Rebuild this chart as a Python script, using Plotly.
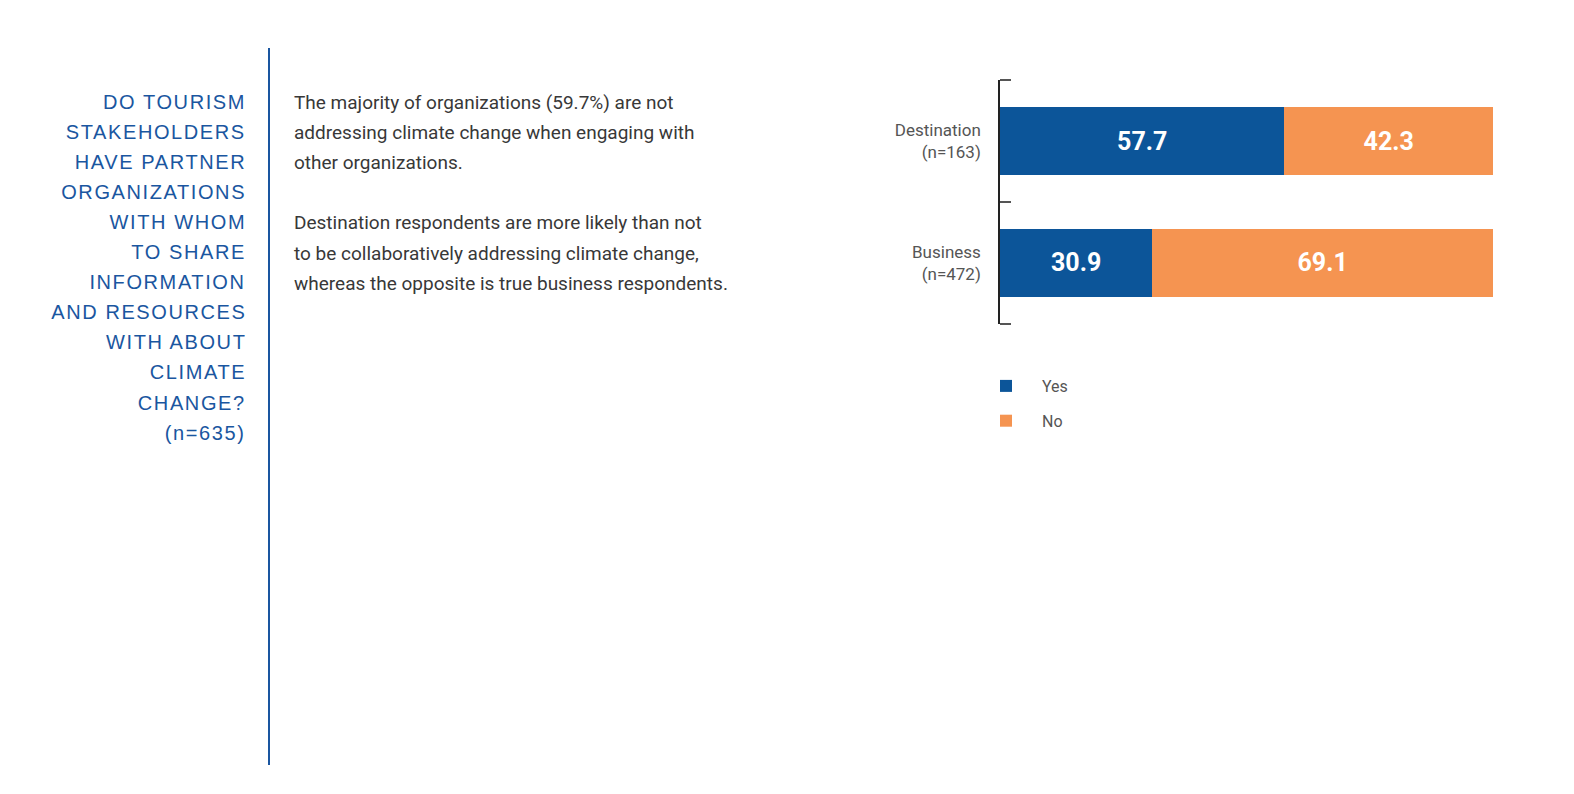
import plotly.graph_objects as go

categories = ["Destination<br>(n=163)", "Business<br>(n=472)"]
yes_values = [57.7, 30.9]
no_values = [42.3, 69.1]
series_names = ["Yes", "No"]

title_lines = ["DO TOURISM", "STAKEHOLDERS", "HAVE PARTNER", "ORGANIZATIONS",
               "WITH WHOM", "TO SHARE", "INFORMATION", "AND RESOURCES",
               "WITH ABOUT", "CLIMATE", "CHANGE?", "(n=635)"]
body_lines = ["The majority of organizations (59.7%) are not",
              "addressing climate change when engaging with",
              "other organizations.",
              "",
              "Destination respondents are more likely than not",
              "to be collaboratively addressing climate change,",
              "whereas the opposite is true business respondents."]

W, H = 1574, 794
OFF = 8  # page body margin
# plot area in reference (page) pixels
L, R, T, B = 1000, 1493, 80, 324
BLUE = "#0c5599"
ORANGE = "#f59451"
TITLE_BLUE = "#1a56a0"

ypos = list(range(len(categories)))
boundaries = [p - 0.5 for p in ypos] + [ypos[-1] + 0.5]


def px_x(x):
    return (x - L) / (R - L)


def px_y(y):
    return (B - y) / (B - T)


fig = go.Figure()
for name, vals, col, grp in [(series_names[0], yes_values, BLUE, "a"),
                             (series_names[1], no_values, ORANGE, "b")]:
    fig.add_trace(go.Bar(
        y=ypos, x=vals, name=name, orientation="h",
        marker=dict(color=col, line=dict(width=0)), width=0.557,
        text=[f"{v:.1f}" for v in vals], textposition="inside",
        insidetextanchor="middle",
        textfont=dict(family="Roboto", size=25, color="white", weight="bold"),
        legendgroup=grp, hoverinfo="skip"))

annotations = []
for i, line in enumerate(title_lines):
    annotations.append(dict(
        text=line, xref="paper", yref="paper", x=px_x(247.5), y=px_y(102 + 30.05 * i),
        xanchor="right", yanchor="middle", align="right", showarrow=False,
        font=dict(family="Liberation Sans", size=20, color=TITLE_BLUE)))
for i, line in enumerate(body_lines):
    if not line:
        continue
    annotations.append(dict(
        text=line, xref="paper", yref="paper", x=px_x(292), y=px_y(102.5 + 30.1 * i),
        xanchor="left", yanchor="middle", showarrow=False,
        font=dict(family="Roboto", size=19, color="#383838")))

fig.update_layout(
    width=W, height=H,
    margin=dict(l=L - OFF, r=W - (R - OFF), t=T - OFF, b=H - (B - OFF)),
    barmode="stack",
    paper_bgcolor="white", plot_bgcolor="white",
    showlegend=True,
    legend=dict(x=px_x(970), y=px_y(369), xanchor="left", yanchor="top",
                traceorder="grouped", tracegroupgap=11, itemwidth=62,
                font=dict(family="Roboto", size=16, color="#555")),
    xaxis=dict(range=[0, 100], visible=False, showgrid=False, zeroline=False),
    yaxis=dict(range=[boundaries[-1] + 0.002, boundaries[0] - 0.002],
               showline=True, linecolor="#222", linewidth=1.5,
               tickmode="array", tickvals=ypos, ticktext=categories, ticks="",
               minor=dict(tickmode="array", tickvals=boundaries, ticks="inside",
                          ticklen=11, tickcolor="#555", tickwidth=1.5, showgrid=False),
               showgrid=False, zeroline=False,
               ticklabelstandoff=14,
               tickfont=dict(family="Roboto", size=17, color="#555")),
    annotations=annotations,
    shapes=[dict(type="line", xref="paper", yref="paper",
                 x0=px_x(269), x1=px_x(269), y0=px_y(48), y1=px_y(765),
                 line=dict(color=TITLE_BLUE, width=2))],
)

n_title = len(title_lines)
post_js = """
for (var i = 0; i < %d; i++) {
  document.querySelectorAll('.annotation[data-index="' + i + '"] text').forEach(function(t) {
    t.style.letterSpacing = '1.6px';
  });
}
""" % n_title

fig.write_html("out.html", post_script=post_js)
